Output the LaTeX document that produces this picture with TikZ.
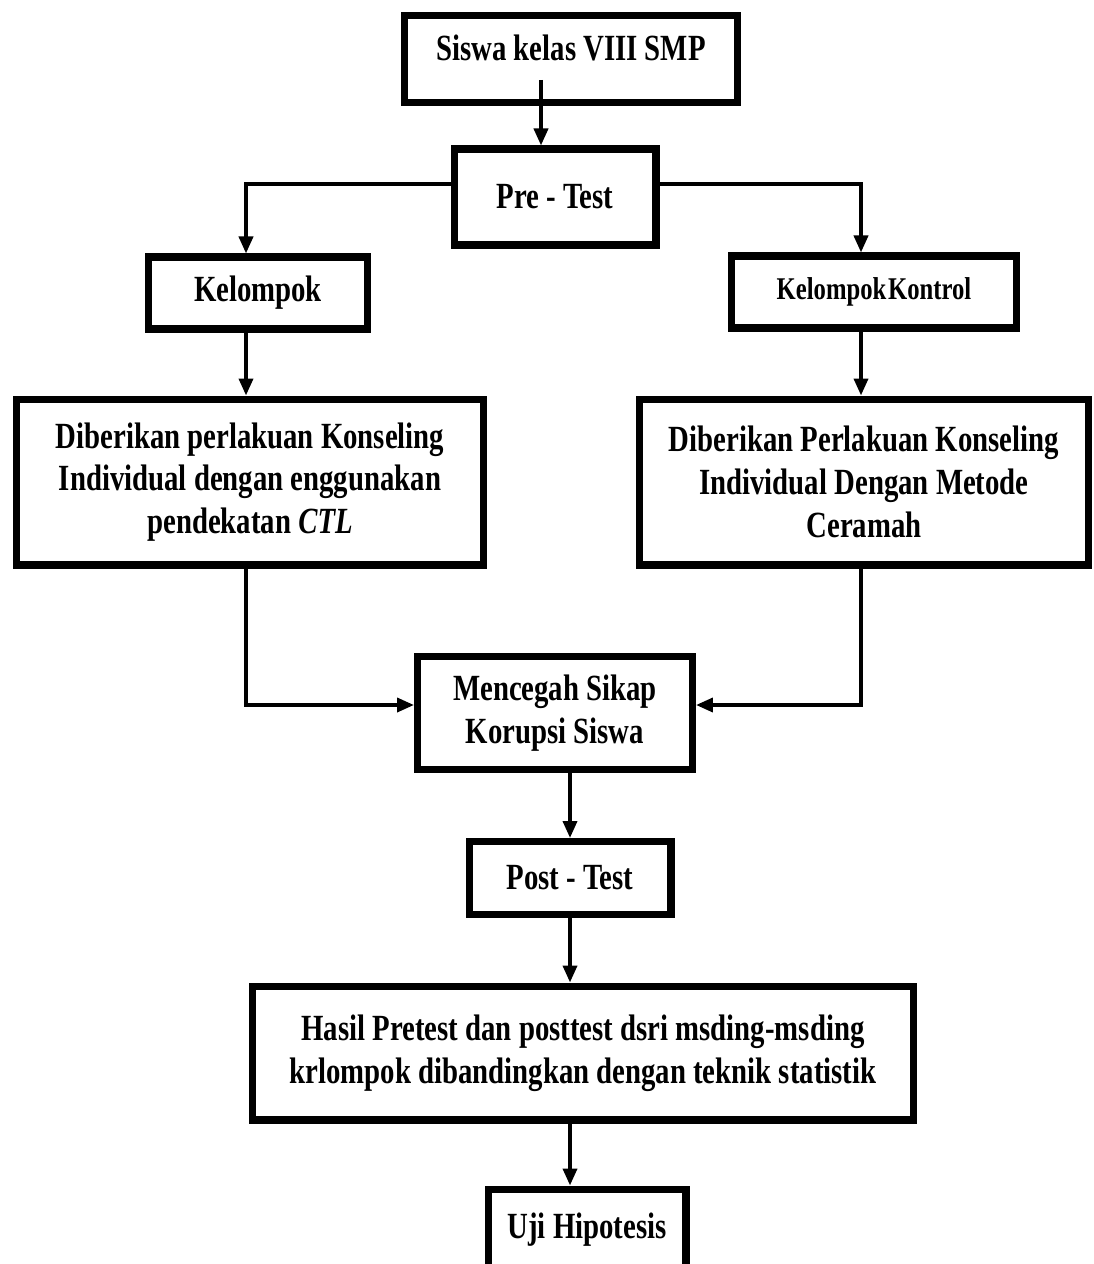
\documentclass[tikz,border=0pt]{standalone}
\usepackage{fontspec}
\setmainfont{Liberation Serif}[FakeStretch=0.78]
\usetikzlibrary{calc, arrows.meta}

\tikzset{
    kotak/.style={draw, line width=4pt, inner sep=0pt, align=center,
        font=\fontsize{21}{24.4}\selectfont\bfseries},
    panah/.style={line width=2.1pt, -{Triangle[length=0.34cm, width=0.28cm]}}
}

\begin{document}
\begin{tikzpicture}[x=0.02cm, y=-0.02cm]
            \useasboundingbox (0,0) rectangle (1094,1264);

            \node[kotak, minimum width=6.68cm, minimum height=1.74cm, text depth=0.45cm] (siswa) at (571,59) {Siswa kelas VIII SMP};
            \node[kotak, minimum width=4.04cm, minimum height=1.92cm] (pretest) at (555,197) {Pre - Test};
            \node[kotak, minimum width=4.38cm, minimum height=1.44cm] (kelompok) at (258,293) {Kelompok};
            \node[kotak, minimum width=5.70cm, minimum height=1.44cm, font=\fontsize{18}{20}\selectfont\bfseries] (kontrol) at (874,292) {Kelompok\hspace{1pt}Kontrol};
            \node[kotak, minimum width=9.34cm, minimum height=3.32cm] (diberiA) at (250,482) {Diberikan perlakuan Konseling\\Individual dengan enggunakan\\pendekatan \textit{CTL}};
            \node[kotak, minimum width=9.00cm, minimum height=3.32cm] (diberiB) at (864,482) {Diberikan Perlakuan Konseling\\Individual Dengan Metode\\Ceramah};
            \node[kotak, minimum width=5.50cm, minimum height=2.26cm] (mencegah) at (555,713) {Mencegah Sikap\\Korupsi Siswa};
            \node[kotak, minimum width=4.04cm, minimum height=1.46cm] (posttest) at (570,878) {Post - Test};
            \node[kotak, minimum width=13.24cm, minimum height=2.68cm] (hasil) at (583,1053) {Hasil Pretest dan posttest dsri msding-msding\\krlompok dibandingkan dengan teknik statistik};
            \node[kotak, minimum width=3.96cm, minimum height=1.64cm] (uji) at (587,1230) {Uji Hipotesis};

            % jalur
            \coordinate (awal) at (541,80);
            \coordinate (kiri) at (246,0);
            \coordinate (kanan) at (861,0);
            \coordinate (tengah) at (570,0);

            \draw[panah] (awal) -- (awal |- pretest.north);
            \draw[panah] ($(pretest.west)+(0,-13)$) -| (kiri |- kelompok.north);
            \draw[panah] ($(pretest.east)+(0,-13)$) -| (kanan |- kontrol.north);
            \draw[panah] (kiri |- kelompok.south) -- (kiri |- diberiA.north);
            \draw[panah] (kanan |- kontrol.south) -- (kanan |- diberiB.north);
            \draw[panah] (kiri |- diberiA.south) |- ($(mencegah.west)+(0,-8)$);
            \draw[panah] (kanan |- diberiB.south) |- ($(mencegah.east)+(0,-8)$);
            \draw[panah] (tengah |- mencegah.south) -- (tengah |- posttest.north);
            \draw[panah] (tengah |- posttest.south) -- (tengah |- hasil.north);
            \draw[panah] (tengah |- hasil.south) -- (tengah |- uji.north);
        \end{tikzpicture}
\end{document}
